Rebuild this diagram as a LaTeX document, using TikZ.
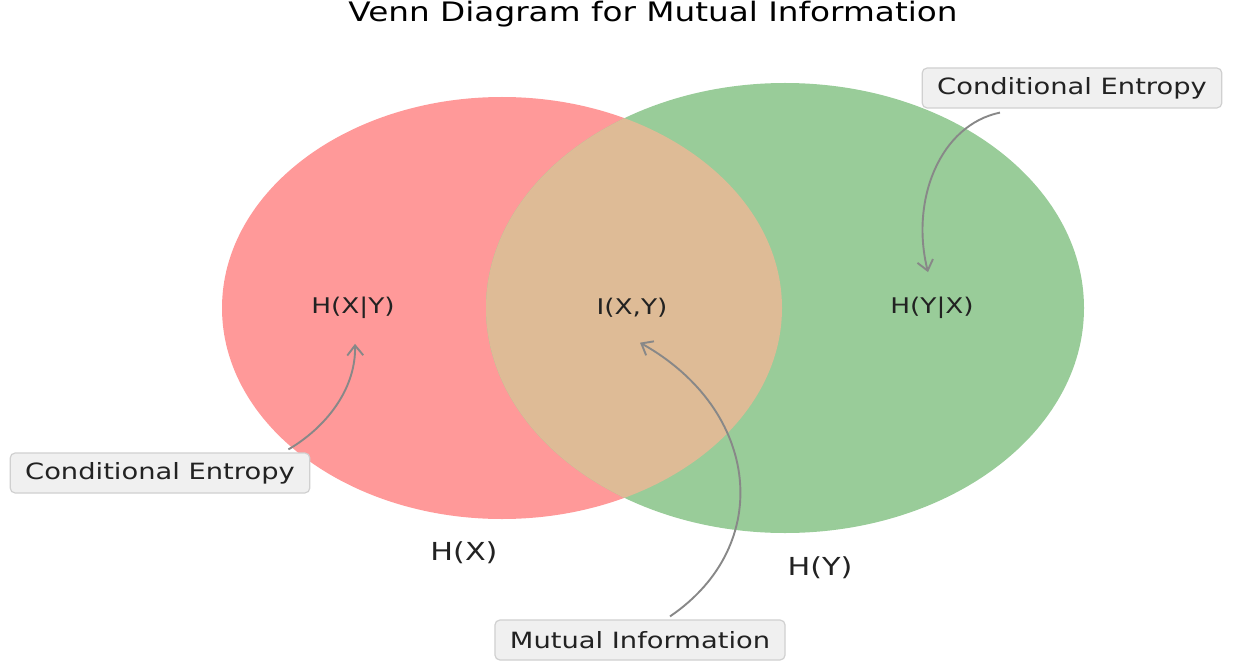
\documentclass[tikz,border=0pt]{standalone}
\usepackage{fontspec}
\setmainfont{DejaVu Sans}[FakeStretch=1.22]
\usetikzlibrary{arrows.meta}
\definecolor{setx}{HTML}{FF9999}
\definecolor{sety}{HTML}{99CC99}
\definecolor{setxy}{HTML}{DEBB96}
\definecolor{boxfill}{HTML}{F0F0F0}
\definecolor{boxline}{HTML}{D0D0D0}
\definecolor{pointer}{HTML}{888888}
\definecolor{ink}{HTML}{222222}
\tikzset{
  region/.style={text=ink, font=\fontsize{10.8}{12}\selectfont},
  setname/.style={text=ink, font=\fontsize{12.4}{14}\selectfont},
  callout/.style={draw=boxline, fill=boxfill, rounded corners=2.5pt, line width=0.6pt,
    text=ink, font=\fontsize{11.2}{13}\selectfont, minimum height=20pt, inner xsep=7.5pt},
  pointerline/.style={draw=pointer, line width=0.95pt, -{Straight Barb[length=5pt,width=8pt]}},
}
\begin{document}
\begin{tikzpicture}[x=0.5pt, y=-0.5pt]
\useasboundingbox (0,0) rectangle (1235,668);

% the two entropy sets and their overlap
\fill[setx] (502,308) ellipse [x radius=280, y radius=211];
\fill[sety] (785,308) ellipse [x radius=299, y radius=225];
\begin{scope}
  \clip (502,308) ellipse [x radius=280, y radius=211];
  \fill[setxy] (785,308) ellipse [x radius=299, y radius=225];
\end{scope}

% title
\node[text=black, font=\fontsize{13.4}{15}\selectfont] (title) at (653,14) {Venn Diagram for Mutual Information};

% region and set labels
\node[region] (hxy) at (353,308) {H(X|Y)};
\node[region] (ixy) at (632,308) {I(X,Y)};
\node[region] (hyx) at (932,308) {H(Y|X)};
\node[setname] (hx) at (464,553) {H(X)};
\node[setname] (hy) at (820,568) {H(Y)};

% callouts
\node[callout] (celeft) at (160,473) {Conditional Entropy};
\node[callout] (ceright) at (1072,88) {Conditional Entropy};
\node[callout] (mi) at (640,640) {Mutual Information};

% pointers
\draw[pointerline] ([xshift=-11pt,yshift=1.5pt]celeft.north east)
  .. controls (325,428) and (356,390) .. ([xshift=1pt,yshift=-9pt]hxy.south);
\draw[pointerline] ([xshift=-36pt,yshift=-2pt]ceright.south)
  .. controls (940,125) and (910,200) .. ([xshift=-2pt,yshift=9pt]hyx.north);
\draw[pointerline] ([xshift=15pt,yshift=1.5pt]mi.north)
  .. controls (775,545) and (760,410) .. ([xshift=4pt,yshift=-9pt]ixy.south);
\end{tikzpicture}
\end{document}
